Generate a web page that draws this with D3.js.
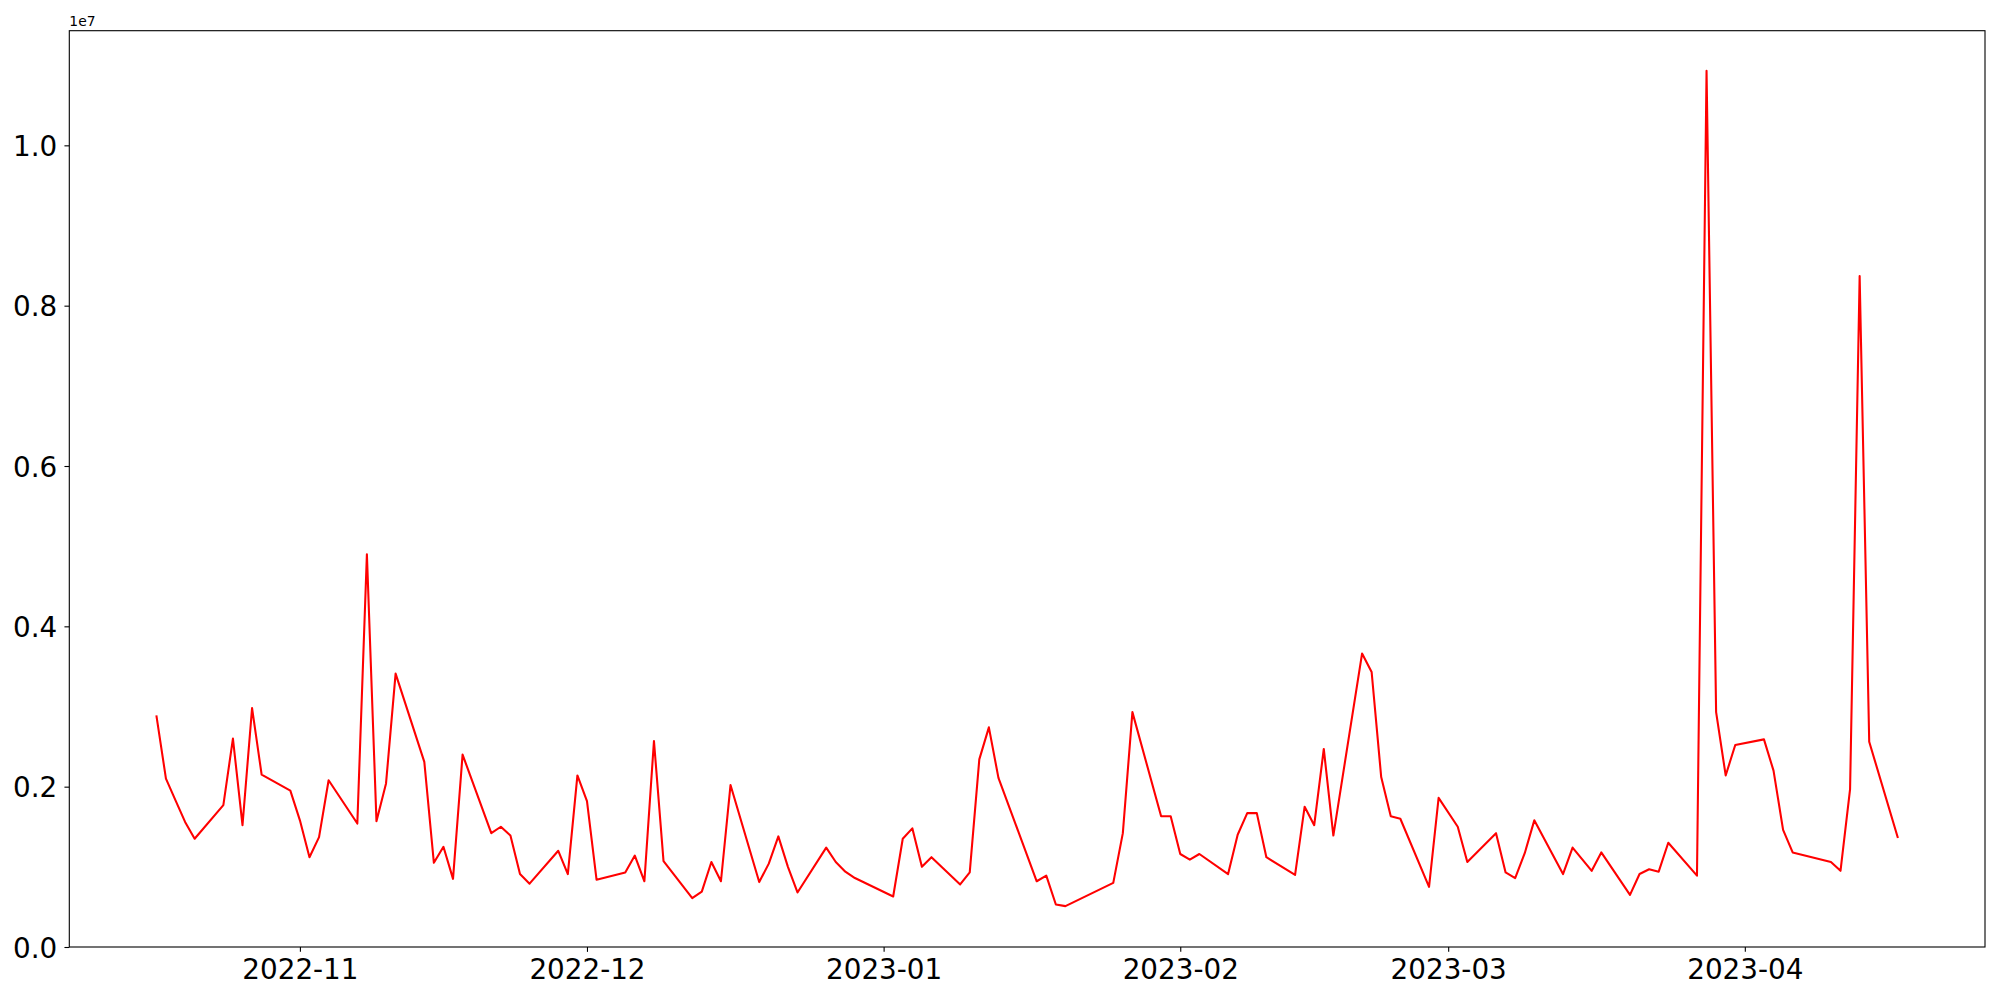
<!DOCTYPE html>
<html>
<head>
<meta charset="utf-8">
<script src="https://cdn.jsdelivr.net/npm/d3@7"></script>
<style>
  html, body { margin: 0; padding: 0; background: #ffffff; }
  svg { display: block; }
  text { font-family: "DejaVu Sans", sans-serif; fill: #000; }
</style>
</head>
<body>
<svg id="chart" width="2000" height="1000"></svg>
<script>
// ---- data ----
const dates = [
  "2022-10-17","2022-10-18","2022-10-19","2022-10-20","2022-10-21",
  "2022-10-24","2022-10-25","2022-10-26","2022-10-27","2022-10-28",
  "2022-10-31","2022-11-01","2022-11-02","2022-11-03","2022-11-04",
  "2022-11-07","2022-11-08","2022-11-09","2022-11-10","2022-11-11",
  "2022-11-14","2022-11-15","2022-11-16","2022-11-17","2022-11-18",
  "2022-11-21","2022-11-22","2022-11-23","2022-11-24","2022-11-25",
  "2022-11-28","2022-11-29","2022-11-30","2022-12-01","2022-12-02",
  "2022-12-05","2022-12-06","2022-12-07","2022-12-08","2022-12-09",
  "2022-12-12","2022-12-13","2022-12-14","2022-12-15","2022-12-16",
  "2022-12-19","2022-12-20","2022-12-21","2022-12-22","2022-12-23",
  "2022-12-26","2022-12-27","2022-12-28","2022-12-29",
  "2023-01-02","2023-01-03","2023-01-04","2023-01-05","2023-01-06",
  "2023-01-09","2023-01-10","2023-01-11","2023-01-12","2023-01-13",
  "2023-01-17","2023-01-18","2023-01-19","2023-01-20",
  "2023-01-25","2023-01-26","2023-01-27",
  "2023-01-30","2023-01-31","2023-02-01","2023-02-02","2023-02-03",
  "2023-02-06","2023-02-07","2023-02-08","2023-02-09","2023-02-10",
  "2023-02-13","2023-02-14","2023-02-15","2023-02-16","2023-02-17",
  "2023-02-20","2023-02-21","2023-02-22","2023-02-23","2023-02-24",
  "2023-02-27","2023-02-28","2023-03-02","2023-03-03",
  "2023-03-06","2023-03-07","2023-03-08","2023-03-09","2023-03-10",
  "2023-03-13","2023-03-14","2023-03-16","2023-03-17",
  "2023-03-20","2023-03-21","2023-03-22","2023-03-23","2023-03-24",
  "2023-03-27","2023-03-28","2023-03-29","2023-03-30","2023-03-31",
  "2023-04-03","2023-04-04","2023-04-05","2023-04-06",
  "2023-04-10","2023-04-11","2023-04-12","2023-04-13","2023-04-14",
  "2023-04-17"
];
const values = [
  2890000, 2100000, 1830000, 1560000, 1350000,
  1770000, 2600000, 1520000, 2980000, 2150000,
  1950000, 1580000, 1120000, 1370000, 2080000,
  1540000, 4900000, 1570000, 2040000, 3410000,
  2310000, 1050000, 1250000, 850000, 2400000,
  1420000, 1500000, 1390000, 910000, 790000,
  1200000, 910000, 2140000, 1820000, 840000,
  930000, 1140000, 820000, 2570000, 1070000,
  610000, 690000, 1060000, 820000, 2020000,
  810000, 1040000, 1380000, 1000000, 680000,
  1240000, 1060000, 940000, 860000,
  630000, 1350000, 1480000, 1000000, 1120000,
  780000, 930000, 2340000, 2740000, 2110000,
  820000, 890000, 530000, 510000,
  800000, 1420000, 2930000,
  1630000, 1630000, 1160000, 1090000, 1160000,
  910000, 1400000, 1670000, 1670000, 1120000,
  900000, 1750000, 1520000, 2470000, 1390000,
  3660000, 3430000, 2120000, 1630000, 1600000,
  750000, 1860000, 1500000, 1060000,
  1420000, 930000, 860000, 1170000, 1580000,
  910000, 1240000, 950000, 1180000,
  650000, 910000, 970000, 940000, 1300000,
  890000, 10930000, 2930000, 2140000, 2520000,
  2590000, 2200000, 1460000, 1180000,
  1060000, 950000, 1970000, 8370000, 2560000,
  1360000
];
const yTickValues = [0, 2000000, 4000000, 6000000, 8000000, 10000000];
const yTickLabels = ["0.0", "0.2", "0.4", "0.6", "0.8", "1.0"];
const yOffsetLabel = "1e7";
const xTickFormat = "%Y-%m";
const yMax = 11430000;

// ---- layout ----
const mLeft = 69.3, mRight = 1985, mTop = 30.7, mBottom = 947;
const tickLen = 4.86, pad = 4.86;
const fontSize = 27.8;

const parse = d3.utcParse("%Y-%m-%d");
const data = dates.map((d, i) => ({ date: parse(d), value: values[i] }));

const ext = d3.extent(data, d => d.date);
const span = ext[1] - ext[0];
const x = d3.scaleUtc()
  .domain([new Date(+ext[0] - 0.05 * span), new Date(+ext[1] + 0.05 * span)])
  .range([mLeft, mRight]);
const y = d3.scaleLinear().domain([0, yMax]).range([mBottom, mTop]);

const svg = d3.select("#chart");
svg.append("rect").attr("width", 2000).attr("height", 1000).attr("fill", "#fff");

svg.append("clipPath").attr("id", "clip")
  .append("rect").attr("x", mLeft).attr("y", mTop)
  .attr("width", mRight - mLeft).attr("height", mBottom - mTop);

// line
const line = d3.line().x(d => x(d.date)).y(d => y(d.value));
svg.append("path")
  .datum(data)
  .attr("clip-path", "url(#clip)")
  .attr("fill", "none")
  .attr("stroke", "#ff0000")
  .attr("stroke-width", 2.08)
  .attr("stroke-linejoin", "round")
  .attr("stroke-linecap", "butt")
  .attr("d", line);

// x axis
const xAxis = d3.axisBottom(x)
  .ticks(d3.utcMonth.every(1))
  .tickFormat(d3.utcFormat(xTickFormat))
  .tickSize(tickLen)
  .tickPadding(pad);
const gx = svg.append("g").attr("transform", `translate(0,${mBottom})`).call(xAxis);
gx.select(".domain").remove();
gx.selectAll(".tick line").attr("stroke", "#000").attr("stroke-width", 1.1);
gx.selectAll(".tick text")
  .attr("font-family", "DejaVu Sans")
  .attr("font-size", fontSize)
  .attr("fill", "#000")
  .attr("dy", null)
  .attr("y", 32);

// y axis
const yAxis = d3.axisLeft(y)
  .tickValues(yTickValues)
  .tickFormat((d, i) => yTickLabels[i])
  .tickSize(tickLen)
  .tickPadding(pad);
const gy = svg.append("g").attr("transform", `translate(${mLeft},0)`).call(yAxis);
gy.select(".domain").remove();
gy.selectAll(".tick line").attr("stroke", "#000").attr("stroke-width", 1.1);
gy.selectAll(".tick text")
  .attr("font-family", "DejaVu Sans")
  .attr("font-size", fontSize)
  .attr("fill", "#000")
  .attr("dy", null)
  .attr("x", -12)
  .attr("y", 10.3);

// spines
svg.append("rect")
  .attr("x", mLeft).attr("y", mTop)
  .attr("width", mRight - mLeft).attr("height", mBottom - mTop)
  .attr("fill", "none")
  .attr("stroke", "#000")
  .attr("stroke-width", 1.1);

// offset text
svg.append("text")
  .attr("x", mLeft)
  .attr("y", 26)
  .attr("font-size", 13.9)
  .attr("font-family", "DejaVu Sans")
  .text(yOffsetLabel);
</script>
</body>
</html>
